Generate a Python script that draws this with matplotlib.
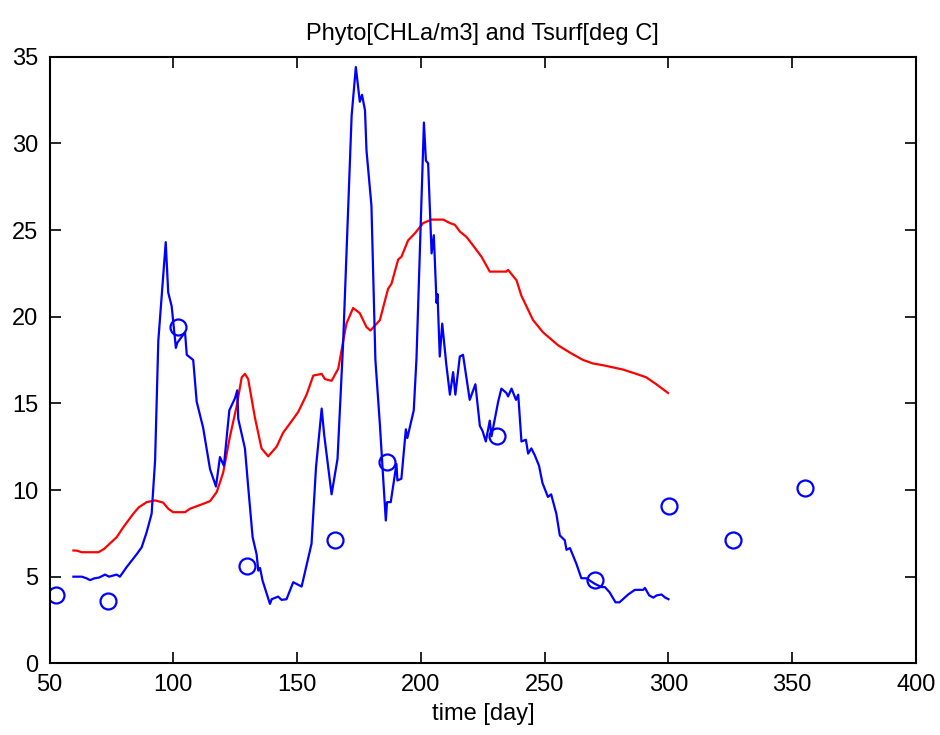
import matplotlib.pyplot as plt

plt.rcParams['font.family'] = ['Liberation Sans', 'DejaVu Sans']

# surface temperature [deg C]
temp_day = [59.6, 61, 63, 69.7, 72, 77.1, 80, 83.8, 86, 89.2, 92.6, 95.9, 97.9, 99.9,
             104.7, 106.7, 112, 114.8, 117.5, 120.1, 122.8, 125.5, 127.6, 128.9, 130.2,
             132.9, 135.6, 138.3, 141.7, 144.3, 148.4, 150.4, 153.8, 156.5, 159.9, 161.2,
             163.9, 166.6, 168.6, 169.9, 172.6, 175.3, 178, 179.6, 183.4, 186.7, 188.1,
             190.8, 192.1, 194.8, 197.5, 200.9, 204.3, 209, 211.7, 213.7, 215.8, 218.4,
             221.1, 224.5, 227.8, 234.5, 235.2, 238.6, 240.6, 245.3, 249.3, 255.4, 260.5,
             265.5, 269.5, 273.5, 281.6, 287, 291, 295.1, 299.8]
temp_val = [6.51, 6.5, 6.41, 6.41, 6.6, 7.28, 7.9, 8.63, 9.0, 9.3, 9.4, 9.27, 8.92, 8.72,
            8.72, 8.92, 9.2, 9.36, 9.88, 11.0, 13.06, 14.8, 16.5, 16.7, 16.4,
            14.2, 12.4, 11.94, 12.5, 13.3, 14.1, 14.5, 15.5, 16.6, 16.7, 16.4,
            16.3, 17.0, 18.6, 19.6, 20.5, 20.2, 19.4, 19.2, 19.8, 21.6, 21.9,
            23.3, 23.45, 24.4, 24.8, 25.4, 25.6, 25.6, 25.4, 25.3, 24.9, 24.6,
            24.1, 23.45, 22.6, 22.6, 22.7, 22.1, 21.2, 19.8, 19.1, 18.35, 17.9,
            17.5, 17.3, 17.2, 16.95, 16.7, 16.5, 16.1, 15.6]

# modelled phytoplankton [CHLa/m3]
phyto_day = [59.6, 63, 65, 66.3, 68, 70, 72.4, 74, 77.1, 78.4, 81.1, 85.2, 87.2, 89.2,
             91.2, 92.6, 93.9, 96.9, 97.9, 99.3, 101, 101.6, 104.7, 105.4, 108, 109.4,
             112, 114.8, 117.2, 118.8, 120.4, 122.6, 124.9, 125.8, 126.2, 128.9, 130.2,
             132, 133.6, 134.3, 135, 136, 139, 139.7, 142.3, 143.7, 145.7, 148.4, 151.8,
             155.8, 157.6, 159.9, 160.9, 163.9, 166.3, 168.6, 172, 173.7, 175.3, 176.2,
             177.4, 178, 180, 181.6, 183.4, 185.8, 186.3, 187.8, 190.1, 190.5, 192.1,
             193.9, 194.5, 197.1, 198.2, 201.2, 202, 202.9, 204.3, 205.2, 206.3, 206.7,
             207.6, 208.6, 210.2, 211.7, 213, 213.9, 215.7, 217, 219.7, 222, 223.8,
             224.9, 226.2, 227.8, 228.5, 231.2, 232.5, 234.5, 235.2, 236.6, 238.4, 239.3,
             240.6, 242.4, 243.3, 244.6, 246, 247.7, 249.1, 251.3, 252.6, 254.7, 256.1,
             258.1, 258.8, 260.2, 262.8, 264.8, 266.8, 270.2, 272.9, 274.3, 276.2, 278.6,
             280.2, 283.7, 286.4, 289.8, 290.5, 292.2, 293.9, 295.2, 297.2, 298.6, 300]
phyto_val = [5.0, 5.0, 4.9, 4.8, 4.9, 4.95, 5.12, 5.0, 5.12, 5.0, 5.55, 6.3, 6.7, 7.57,
             8.63, 11.7, 18.6, 24.3, 21.4, 20.6, 18.2, 18.5, 19.1, 17.8, 17.5, 15.1,
             13.6, 11.2, 10.2, 11.9, 11.4, 14.6, 15.3, 15.75, 14.1, 12.4, 10.2,
             7.28, 6.3, 5.35, 5.5, 4.78, 3.43, 3.7, 3.85, 3.66, 3.7, 4.68, 4.43,
             6.9, 11.3, 14.7, 13.2, 9.75, 11.8, 18.6, 31.6, 34.4, 32.4, 32.8,
             31.9, 29.6, 26.4, 17.5, 13.8, 8.24, 9.3, 9.3, 11.5, 10.55, 10.65,
             13.5, 13.0, 14.6, 17.6, 31.2, 29.0, 28.85, 23.65, 24.7, 20.8, 21.3,
             17.7, 19.6, 17.3, 15.5, 16.8, 15.5, 17.7, 17.8, 15.2, 16.1, 13.7,
             13.4, 12.8, 14.0, 13.1, 15.1, 15.85, 15.6, 15.4, 15.85, 15.2, 15.5,
             12.8, 12.9, 12.1, 12.4, 12.0, 11.4, 10.4, 9.6, 9.75, 8.63, 7.38,
             7.1, 6.55, 6.65, 5.74, 4.91, 4.91, 4.59, 4.4, 4.4, 4.1, 3.52,
             3.52, 3.97, 4.24, 4.24, 4.35, 3.92, 3.79, 3.92, 3.97, 3.8, 3.7]

# observations
obs_day = [52.6, 73.6, 101.8, 129.7, 165.2, 186.2, 230.6, 270.2, 300.1, 325.9, 355]
obs_val = [3.96, 3.6, 19.4, 5.6, 7.1, 11.6, 13.1, 4.8, 9.05, 7.1, 10.1]

fig = plt.figure(figsize=(9.4, 7.35), dpi=100)
ax = fig.add_axes([0.0528, 0.0975, 0.9217, 0.8254])

ax.plot(temp_day, temp_val, color='red', lw=1.6)
ax.plot(phyto_day, phyto_val, color='blue', lw=1.6)
ax.plot(obs_day, obs_val, 'o', ms=11.5, mfc='none', mec='blue', mew=1.6)

ax.set_xlim(50, 400)
ax.set_ylim(0, 35)
ax.set_xticks(range(50, 401, 50))
ax.set_yticks(range(0, 36, 5))
ax.tick_params(direction='in', top=True, right=True, length=8, width=1.2,
               labelsize=17, pad=8)
for s in ax.spines.values():
    s.set_linewidth(1.5)

ax.set_title('Phyto[CHLa/m3] and Tsurf[deg C]', fontsize=17, pad=12)
ax.set_xlabel('time [day]', fontsize=17, labelpad=5)

fig.savefig('out.png', dpi=100)
